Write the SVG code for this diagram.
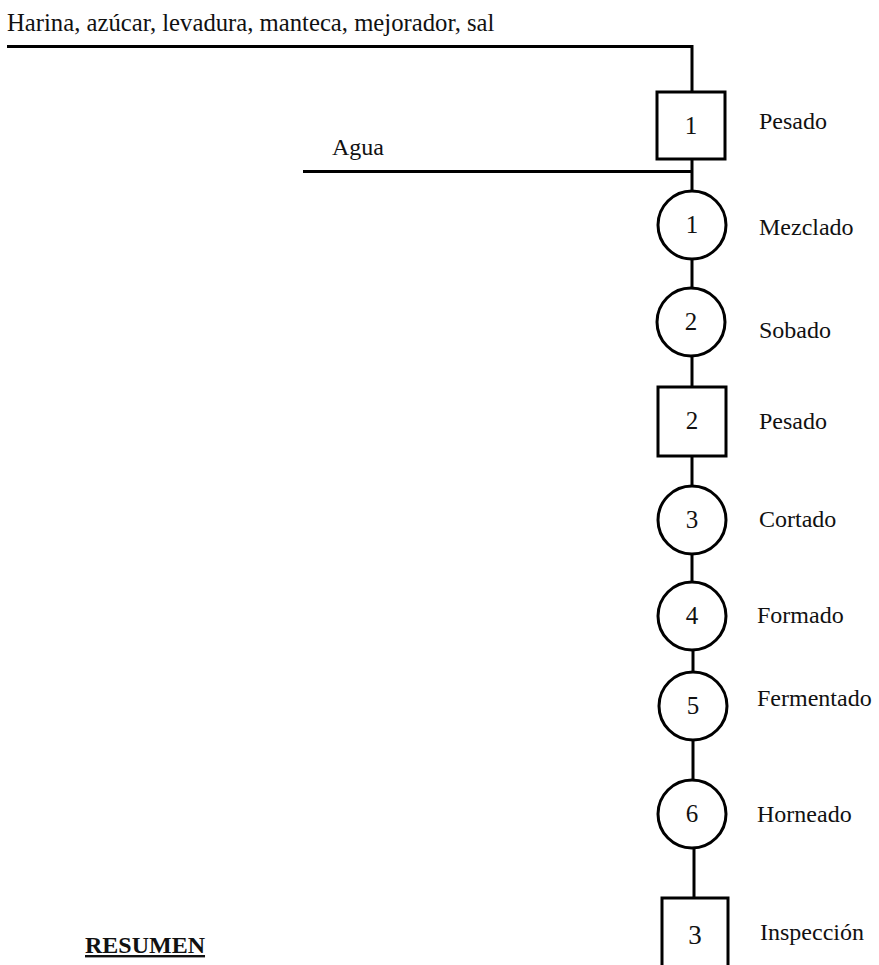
<svg xmlns="http://www.w3.org/2000/svg" width="879" height="965" viewBox="0 0 879 965">
  <style>
    text { font-family: "Liberation Serif", "Times New Roman", serif; font-size: 24px; fill: #111; }
    .num { text-anchor: middle; font-size: 25px; }
    .ln { fill: none; stroke: #000; stroke-width: 3; }
    .shape { fill: #fff; stroke: #000; stroke-width: 3; }
    .title { font-weight: bold; text-decoration: underline; }
  </style>
  <rect width="879" height="965" fill="#fff"/>

  <!-- input lines and vertical flow -->
  <g id="connectors" class="ln">
    <path d="M7,46.5 H692 V92"/>
    <path d="M303,171.5 H692"/>
    <path d="M692,159 V191"/>
    <path d="M692,259 V288"/>
    <path d="M692,356 V387"/>
    <path d="M692,456 V486"/>
    <path d="M692,554 V582"/>
    <path d="M693,650 V672"/>
    <path d="M693,740 V780"/>
    <path d="M694,848 V898"/>
  </g>

  <text x="7" y="31" style="font-size:24.7px">Harina, azúcar, levadura, manteca, mejorador, sal</text>
  <text x="332" y="155">Agua</text>

  <g id="box1">
    <rect class="shape" x="657" y="92" width="68" height="67"/>
    <text class="num" x="691" y="134">1</text>
    <text x="759" y="129">Pesado</text>
  </g>
  <g id="op1">
    <circle class="shape" cx="692" cy="225" r="34"/>
    <text class="num" x="692" y="233">1</text>
    <text x="759" y="235">Mezclado</text>
  </g>
  <g id="op2">
    <circle class="shape" cx="691" cy="322" r="34"/>
    <text class="num" x="691" y="330">2</text>
    <text x="759" y="338">Sobado</text>
  </g>
  <g id="box2">
    <rect class="shape" x="658" y="387" width="68" height="69"/>
    <text class="num" x="692" y="429">2</text>
    <text x="759" y="429">Pesado</text>
  </g>
  <g id="op3">
    <circle class="shape" cx="692" cy="520" r="34"/>
    <text class="num" x="692" y="528">3</text>
    <text x="759" y="527">Cortado</text>
  </g>
  <g id="op4">
    <circle class="shape" cx="692" cy="616" r="34"/>
    <text class="num" x="692" y="624">4</text>
    <text x="757" y="623">Formado</text>
  </g>
  <g id="op5">
    <circle class="shape" cx="693" cy="706" r="34"/>
    <text class="num" x="693" y="714">5</text>
    <text x="757" y="706">Fermentado</text>
  </g>
  <g id="op6">
    <circle class="shape" cx="692" cy="814" r="34"/>
    <text class="num" x="692" y="822">6</text>
    <text x="757" y="822">Horneado</text>
  </g>
  <g id="box3">
    <rect class="shape" x="662" y="898" width="66" height="72"/>
    <text class="num" x="695" y="944" style="font-size:27px">3</text>
    <text x="760" y="940">Inspección</text>
  </g>

  <text class="title" x="85" y="953">RESUMEN</text>
</svg>
